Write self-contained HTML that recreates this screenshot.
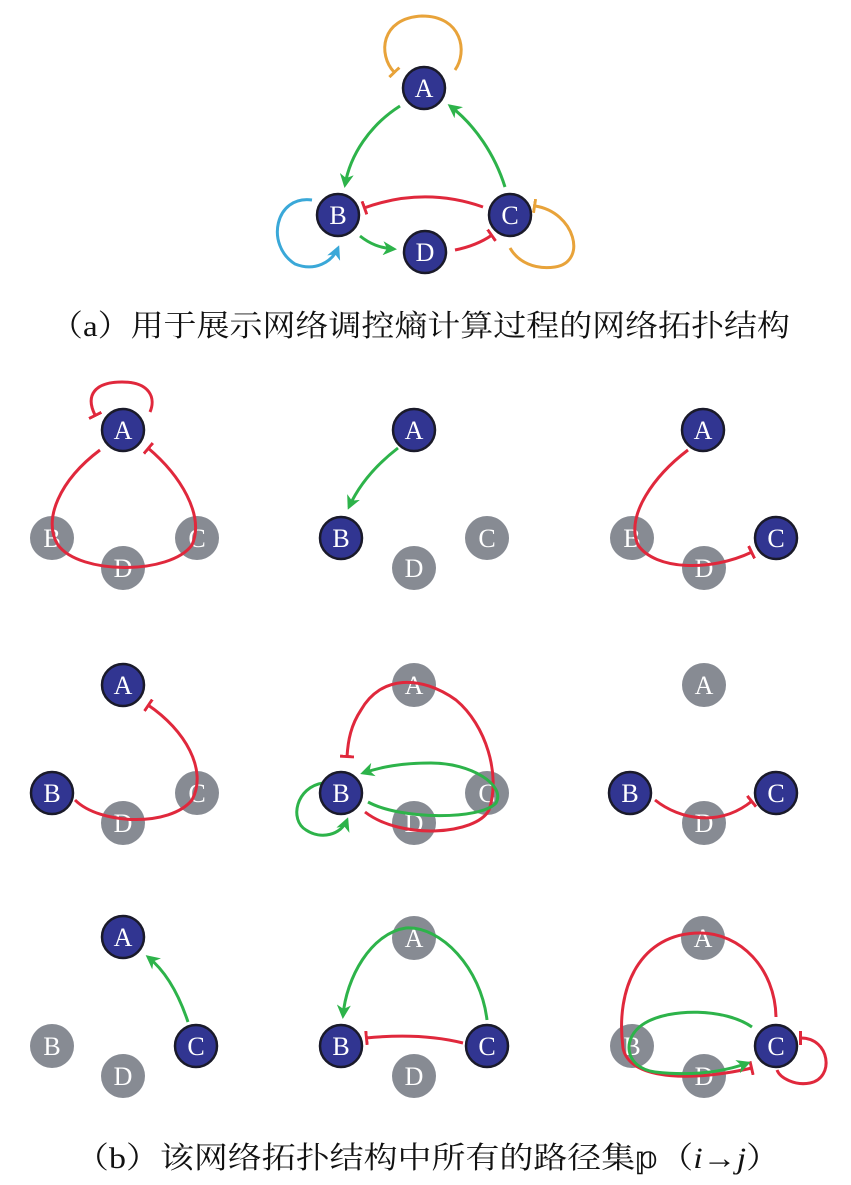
<!DOCTYPE html>
<html><head><meta charset="utf-8"><style>
html,body{margin:0;padding:0;background:#fff;}
svg{display:block;}
.t{font-family:"Liberation Serif","Noto Serif CJK SC",serif;fill:#fff;font-size:26px;text-anchor:middle;}
.cap{font-family:"Liberation Serif","Noto Serif CJK SC",serif;fill:#111;font-size:30px;}
</style></head><body>
<svg width="851" height="1185" viewBox="0 0 851 1185" xmlns="http://www.w3.org/2000/svg">
<defs>
<marker id="ag" markerWidth="14" markerHeight="14" refX="11" refY="7" orient="auto" markerUnits="userSpaceOnUse"><path d="M0,0 L14,7 L0,14 L4,7 z" fill="#2db34a"/></marker>
<marker id="ab" markerWidth="14" markerHeight="14" refX="11" refY="7" orient="auto" markerUnits="userSpaceOnUse"><path d="M0,0 L14,7 L0,14 L4,7 z" fill="#3aa8d8"/></marker>
<marker id="tr" markerWidth="4" markerHeight="14" refX="2" refY="7" orient="auto" markerUnits="userSpaceOnUse"><rect x="0" y="0" width="3" height="14" fill="#e0283c"/></marker>
<marker id="to" markerWidth="4" markerHeight="14" refX="2" refY="7" orient="auto" markerUnits="userSpaceOnUse"><rect x="0" y="0" width="3" height="14" fill="#e8a33a"/></marker>
<g id="nb"><circle r="21" fill="#313591" stroke="#1a1a2a" stroke-width="2.5"/></g>
<g id="ng"><circle r="22" fill="#878b93"/></g>
</defs>
<g fill="none" stroke-width="3">
<path d="M394,72 C378,55 380,18 422,16 C462,16 468,52 455,70" stroke="#e8a33a" marker-start="url(#to)"/>
<path d="M400,106 C370,125 350,155 345,185" stroke="#2db34a" marker-end="url(#ag)"/>
<path d="M505,187 C495,155 475,125 450,106" stroke="#2db34a" marker-end="url(#ag)"/>
<path d="M483,207 C440,192 400,195 364,208" stroke="#e0283c" marker-end="url(#tr)"/>
<path d="M360,236 C370,244 380,248 394,249" stroke="#2db34a" marker-end="url(#ag)"/>
<path d="M455,250 C470,247 482,242 492,235" stroke="#e0283c" marker-end="url(#tr)"/>
<path d="M312,200 C275,195 265,245 295,264 C315,272 332,262 338,248" stroke="#3aa8d8" marker-end="url(#ab)"/>
<path d="M535,206 C575,212 588,262 555,267 C535,270 518,262 510,248" stroke="#e8a33a" marker-start="url(#to)"/>
</g>
<use href="#nb" x="424" y="88"/><text class="t" x="424" y="97">A</text>
<use href="#nb" x="338" y="215"/><text class="t" x="338" y="224">B</text>
<use href="#nb" x="510" y="215"/><text class="t" x="510" y="224">C</text>
<use href="#nb" x="425" y="252"/><text class="t" x="425" y="261">D</text>
<text class="cap" x="50" y="336" textLength="740" lengthAdjust="spacingAndGlyphs">（a）用于展示网络调控熵计算过程的网络拓扑结构</text>

<g>
<use href="#ng" x="52" y="538"/><use href="#ng" x="197" y="538"/><use href="#ng" x="123" y="568"/>
<text class="t" x="52" y="547">B</text><text class="t" x="197" y="547">C</text><text class="t" x="123" y="577">D</text>
<g fill="none" stroke="#e0283c" stroke-width="3">
<path d="M95,415 C85,395 95,382 122,382 C150,382 156,398 150,412" marker-start="url(#tr)"/>
<path d="M100,450 C60,480 42,520 58,545 C80,575 170,575 192,545 C205,515 180,475 148,448" marker-end="url(#tr)"/>
</g>
<use href="#nb" x="123" y="430"/><text class="t" x="123" y="439">A</text>
</g>
<g transform="translate(291,0)">
<use href="#ng" x="196" y="538"/><use href="#ng" x="123" y="568"/>
<text class="t" x="196" y="547">C</text><text class="t" x="123" y="577">D</text>
<path d="M107,448 C85,465 68,485 58,507" fill="none" stroke="#2db34a" stroke-width="3" marker-end="url(#ag)"/>
<use href="#nb" x="123" y="430"/><text class="t" x="123" y="439">A</text>
<use href="#nb" x="50" y="538"/><text class="t" x="50" y="547">B</text>
</g>
<g transform="translate(580,0)">
<use href="#ng" x="52" y="538"/><use href="#ng" x="124" y="568"/>
<text class="t" x="52" y="547">B</text><text class="t" x="124" y="577">D</text>
<path d="M108,450 C75,475 45,515 58,545 C75,570 130,572 172,552" fill="none" stroke="#e0283c" stroke-width="3" marker-end="url(#tr)"/>
<use href="#nb" x="123" y="430"/><text class="t" x="123" y="439">A</text>
<use href="#nb" x="196" y="538"/><text class="t" x="196" y="547">C</text>
</g>
<g transform="translate(0,255)">
<use href="#ng" x="197" y="538"/><use href="#ng" x="123" y="568"/>
<text class="t" x="197" y="547">C</text><text class="t" x="123" y="577">D</text>
<path d="M75,545 C100,570 170,572 192,545 C208,515 185,475 148,450" fill="none" stroke="#e0283c" stroke-width="3" marker-end="url(#tr)"/>
<use href="#nb" x="123" y="430"/><text class="t" x="123" y="439">A</text>
<use href="#nb" x="52" y="538"/><text class="t" x="52" y="547">B</text>
</g>
<g transform="translate(291,255)">
<use href="#ng" x="123" y="430"/><use href="#ng" x="196" y="538"/><use href="#ng" x="123" y="568"/>
<text class="t" x="123" y="439">A</text><text class="t" x="196" y="547">C</text><text class="t" x="123" y="577">D</text>
<g fill="none" stroke-width="3">
<path d="M74,557 C110,585 185,580 198,555 C210,520 195,470 165,445 C130,420 90,420 70,455 C60,470 57,485 56,502" stroke="#e0283c" marker-end="url(#tr)"/>
<path d="M77,547 C110,565 190,565 205,548 C215,530 180,508 140,508 C110,508 90,512 72,518" stroke="#2db34a" marker-end="url(#ag)"/>
<path d="M32,528 C5,532 -2,565 15,575 C30,585 50,580 56,565" stroke="#2db34a" marker-end="url(#ag)"/>
</g>
<use href="#nb" x="50" y="538"/><text class="t" x="50" y="547">B</text>
</g>
<g transform="translate(580,255)">
<use href="#ng" x="124" y="430"/><use href="#ng" x="124" y="568"/>
<text class="t" x="124" y="439">A</text><text class="t" x="124" y="577">D</text>
<path d="M75,545 C100,565 140,572 172,546" fill="none" stroke="#e0283c" stroke-width="3" marker-end="url(#tr)"/>
<use href="#nb" x="50" y="538"/><text class="t" x="50" y="547">B</text>
<use href="#nb" x="196" y="538"/><text class="t" x="196" y="547">C</text>
</g>
<g transform="translate(0,508)">
<use href="#ng" x="52" y="538"/><use href="#ng" x="123" y="568"/>
<text class="t" x="52" y="547">B</text><text class="t" x="123" y="577">D</text>
<path d="M188,514 C180,490 168,465 148,449" fill="none" stroke="#2db34a" stroke-width="3" marker-end="url(#ag)"/>
<use href="#nb" x="123" y="429"/><text class="t" x="123" y="438">A</text>
<use href="#nb" x="196" y="538"/><text class="t" x="196" y="547">C</text>
</g>
<g transform="translate(291,508)">
<use href="#ng" x="123" y="430"/><use href="#ng" x="123" y="568"/>
<text class="t" x="123" y="439">A</text><text class="t" x="123" y="577">D</text>
<g fill="none" stroke-width="3">
<path d="M196,512 C190,460 150,418 115,420 C80,425 55,470 52,508" stroke="#2db34a" marker-end="url(#ag)"/>
<path d="M172,535 C140,527 105,527 75,530" stroke="#e0283c" marker-end="url(#tr)"/>
</g>
<use href="#nb" x="50" y="538"/><text class="t" x="50" y="547">B</text>
<use href="#nb" x="196" y="538"/><text class="t" x="196" y="547">C</text>
</g>
<g transform="translate(580,508)">
<use href="#ng" x="123" y="430"/><use href="#ng" x="52" y="538"/><use href="#ng" x="124" y="568"/>
<text class="t" x="123" y="439">A</text><text class="t" x="52" y="547">B</text><text class="t" x="124" y="577">D</text>
<g fill="none" stroke-width="3">
<path d="M196,509 C195,460 160,425 120,425 C60,425 35,480 43,540 C50,575 120,572 172,560" stroke="#e0283c" marker-end="url(#tr)"/>
<path d="M172,519 C145,500 90,500 65,515 C40,530 45,560 75,564 C110,568 140,565 168,555" stroke="#2db34a" marker-end="url(#ag)"/>
<path d="M221,530 C250,530 255,570 230,575 C215,578 200,570 197,562" stroke="#e0283c" marker-start="url(#tr)"/>
</g>
<use href="#nb" x="196" y="538"/><text class="t" x="196" y="547">C</text>
</g>

<text class="cap" x="75" y="1168" textLength="705" lengthAdjust="spacingAndGlyphs">（b）该网络拓扑结构中所有的路径集𝕡（<tspan font-style="italic">i</tspan>→<tspan font-style="italic">j</tspan>）</text>
</svg>
</body></html>
